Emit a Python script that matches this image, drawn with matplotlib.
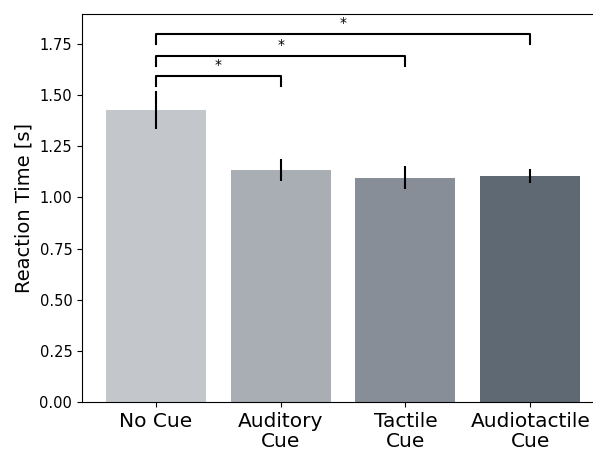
import matplotlib.pyplot as plt
import numpy as np

conditions = ["No Cue", "Auditory\nCue", "Tactile\nCue", "Audiotactile\nCue"]
mean_rt = [1.427, 1.134, 1.095, 1.104]
err_rt = [0.091, 0.054, 0.056, 0.036]
colors = ["#c3c7cb", "#a9adb4", "#878e97", "#5f6973"]

# significance pairs (from, to), bracket height
sig_pairs = [(0, 1), (0, 2), (0, 3)]
sig_heights = [1.595, 1.692, 1.80]

fig = plt.figure(figsize=(5.93, 4.51), dpi=100)
ax = fig.add_axes([82 / 593, 49 / 451, 522 / 593, 388 / 451])

x = np.arange(len(conditions))
ax.bar(x, mean_rt, width=0.8, color=colors)
ax.errorbar(x, mean_rt, yerr=err_rt, fmt="none", ecolor="black", elinewidth=1.5)

drop = 0.05
for (a, b), h in zip(sig_pairs, sig_heights):
    ax.plot([a, a, b, b], [h - drop, h, h, h - drop], color="black", lw=1.5)
    ax.text((a + b) / 2, h + 0.02, "*", ha="center", va="bottom", fontsize=10)

ax.spines["right"].set_visible(False)
ax.set_xlim(-0.59, 3.59)
ax.set_ylim(0, 1.896)
ax.set_yticks(np.arange(0, 1.76, 0.25))
ax.set_xticks(x)
ax.set_xticklabels(conditions, fontsize=14.5, linespacing=1.1)
ax.tick_params(axis="y", labelsize=10.5)
ax.set_ylabel("Reaction Time [s]", fontsize=14)

fig.savefig("out.png", dpi=100)
